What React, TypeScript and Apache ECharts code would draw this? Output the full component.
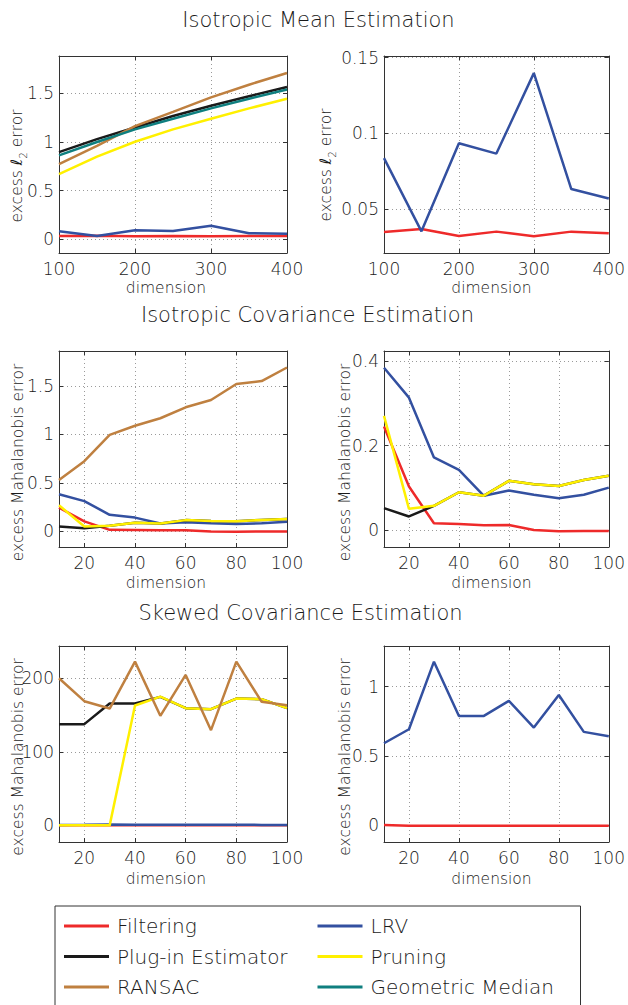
import React, { useEffect, useRef } from 'react';
import * as echarts from 'echarts';

// ---------- data ----------
const meanDims = [100, 150, 200, 250, 300, 350, 400];
const meanFiltering = [0.0349, 0.0368, 0.0322, 0.0351, 0.032, 0.0351, 0.034];
const meanLRV = [0.0836, 0.0353, 0.0934, 0.0866, 0.1397, 0.0632, 0.057];
const meanPlugin = [0.897, 1.03, 1.15, 1.267, 1.373, 1.47, 1.565];
const meanPruning = [0.671, 0.85, 1.003, 1.13, 1.24, 1.346, 1.445];
const meanRansac = [0.774, 0.96, 1.164, 1.31, 1.459, 1.589, 1.709];
const meanGeoMedian = [0.863, 1.0, 1.13, 1.24, 1.346, 1.445, 1.54];

const covDims = [10, 20, 30, 40, 50, 60, 70, 80, 90, 100];
const isoFiltering = [0.245, 0.1035, 0.017, 0.015, 0.012, 0.013, 0.001, -0.002, -0.001, -0.001];
const isoLRV = [0.3835, 0.313, 0.172, 0.143, 0.0816, 0.094, 0.084, 0.076, 0.084, 0.101];
const isoPlugin = [0.0525, 0.033, 0.058, 0.09, 0.082, 0.117, 0.109, 0.105, 0.119, 0.129];
const isoPruning = [0.27, 0.051, 0.058, 0.09, 0.082, 0.117, 0.109, 0.105, 0.119, 0.129];
const isoRansac = [0.53, 0.725, 0.995, 1.09, 1.167, 1.28, 1.355, 1.52, 1.55, 1.69];

const skewFiltering = [0.002, -0.002, -0.002, -0.002, -0.002, -0.002, -0.002, -0.002, -0.002, -0.002];
const skewLRV = [0.592, 0.693, 1.18, 0.789, 0.789, 0.897, 0.705, 0.94, 0.674, 0.643];
const skewPlugin = [137.6, 137.6, 165.6, 165.6, 174.7, 159.3, 157.9, 172.4, 171.5, 159.3];
const skewPruning = [0, 0, 0, 162.9, 175, 159.3, 158, 172.4, 171.5, 159.3];
const skewRansac = [200, 168.8, 158.8, 222.6, 148.9, 204.5, 129.4, 222.6, 167.9, 163.3];

const meanXTicks = [100, 200, 300, 400];
const covXTicks = [20, 40, 60, 80, 100];

const legendOrder = ['Filtering', 'LRV', 'Plug-in Estimator', 'Pruning', 'RANSAC', 'Geometric Median'];
const titles = ['Isotropic Mean Estimation', 'Isotropic Covariance Estimation', 'Skewed Covariance Estimation'];

// ---------- style ----------
const COLORS: Record<string, string> = {
  'Filtering': '#ee2a2a',
  'LRV': '#3350a0',
  'Plug-in Estimator': '#1a1a1a',
  'Pruning': '#fff000',
  'RANSAC': '#bf8040',
  'Geometric Median': '#0f7f7f',
};
const FONT = '"DejaVu Sans", sans-serif';
const FW = 300;
const TXT = '#1a1a1a';

type S = { name: string; x: number[]; y: number[] };

const panels = [
  {
    left: 59, top: 56, width: 228, height: 197,
    xMin: 100, xMax: 400, xTicks: meanXTicks,
    yMin: -0.14, yMax: 1.884, yTicks: [0, 0.5, 1, 1.5],
    series: [
      { name: 'Filtering', x: meanDims, y: meanFiltering },
      { name: 'LRV', x: meanDims, y: meanLRV },
      { name: 'Plug-in Estimator', x: meanDims, y: meanPlugin },
      { name: 'Pruning', x: meanDims, y: meanPruning },
      { name: 'RANSAC', x: meanDims, y: meanRansac },
      { name: 'Geometric Median', x: meanDims, y: meanGeoMedian },
    ] as S[],
    yName: 'l2', yNameX: 17, yNameY: 166, xNameX: 166, xNameY: 287.5,
  },
  {
    left: 384, top: 56, width: 227, height: 197,
    xMin: 100, xMax: 400, xTicks: meanXTicks,
    yMin: 0.021, yMax: 0.151, yTicks: [0.05, 0.1, 0.15],
    series: [
      { name: 'Filtering', x: meanDims, y: meanFiltering },
      { name: 'LRV', x: meanDims, y: meanLRV },
    ] as S[],
    yName: 'l2', yNameX: 326, yNameY: 165, xNameX: 491.5, xNameY: 287.5,
  },
  {
    left: 59, top: 351, width: 228, height: 196,
    xMin: 10, xMax: 100, xTicks: covXTicks,
    yMin: -0.16, yMax: 1.86, yTicks: [0, 0.5, 1, 1.5],
    series: [
      { name: 'Filtering', x: covDims, y: isoFiltering },
      { name: 'LRV', x: covDims, y: isoLRV },
      { name: 'Plug-in Estimator', x: covDims, y: isoPlugin },
      { name: 'Pruning', x: covDims, y: isoPruning },
      { name: 'RANSAC', x: covDims, y: isoRansac },
    ] as S[],
    yName: 'maha', yNameX: 18, yNameY: 462.5, xNameX: 166, xNameY: 583,
  },
  {
    left: 384, top: 351, width: 227, height: 196,
    xMin: 10, xMax: 100, xTicks: covXTicks,
    yMin: -0.039, yMax: 0.423, yTicks: [0, 0.2, 0.4],
    series: [
      { name: 'Filtering', x: covDims, y: isoFiltering },
      { name: 'LRV', x: covDims, y: isoLRV },
      { name: 'Plug-in Estimator', x: covDims, y: isoPlugin },
      { name: 'Pruning', x: covDims, y: isoPruning },
    ] as S[],
    yName: 'maha', yNameX: 345, yNameY: 462.5, xNameX: 491.5, xNameY: 583,
  },
  {
    left: 59, top: 646, width: 228, height: 196,
    xMin: 10, xMax: 100, xTicks: covXTicks,
    yMin: -22.6, yMax: 243.8, yTicks: [0, 100, 200],
    series: [
      { name: 'Filtering', x: covDims, y: skewFiltering },
      { name: 'LRV', x: covDims, y: skewLRV },
      { name: 'Plug-in Estimator', x: covDims, y: skewPlugin },
      { name: 'Pruning', x: covDims, y: skewPruning },
      { name: 'RANSAC', x: covDims, y: skewRansac },
    ] as S[],
    yName: 'maha', yNameX: 18, yNameY: 757, xNameX: 166, xNameY: 879,
  },
  {
    left: 384, top: 646, width: 227, height: 196,
    xMin: 10, xMax: 100, xTicks: covXTicks,
    yMin: -0.12, yMax: 1.293, yTicks: [0, 0.5, 1],
    series: [
      { name: 'Filtering', x: covDims, y: skewFiltering },
      { name: 'LRV', x: covDims, y: skewLRV },
    ] as S[],
    yName: 'maha', yNameX: 345, yNameY: 757, xNameX: 491.5, xNameY: 879,
  },
];

const titlePos = [
  { x: 318.5, y: 19.5 },
  { x: 307.5, y: 315 },
  { x: 300.5, y: 613 },
];

const fmt = (v: number) => String(+Number(v).toFixed(3));

function buildOption() {
  const grid: any[] = [];
  const xAxis: any[] = [];
  const yAxis: any[] = [];
  const series: any[] = [];
  const graphic: any[] = [];

  const tickStyle = { show: true, inside: true, length: 4, lineStyle: { color: '#333', width: 1 } };
  const lineStyle = { show: true, onZero: false, lineStyle: { color: '#333', width: 1 } };
  const split = { show: true, lineStyle: { color: '#9a9a9a', width: 1, type: [1, 3] } };

  panels.forEach((p, i) => {
    grid.push({ left: p.left, top: p.top, width: p.width, height: p.height, containLabel: false });
    xAxis.push({
      type: 'value', gridIndex: i, position: 'bottom', min: p.xMin, max: p.xMax,
      axisLine: lineStyle,
      axisTick: { ...tickStyle, customValues: p.xTicks },
      axisLabel: { customValues: p.xTicks, formatter: fmt, fontSize: 17, color: TXT, fontFamily: FONT, fontWeight: FW, margin: 7 },
      splitLine: split,
    });
    xAxis.push({
      type: 'value', gridIndex: i, position: 'top', min: p.xMin, max: p.xMax,
      axisLine: lineStyle,
      axisTick: { ...tickStyle, customValues: p.xTicks },
      axisLabel: { show: false },
      splitLine: { show: false },
    });
    yAxis.push({
      type: 'value', gridIndex: i, position: 'left', min: p.yMin, max: p.yMax,
      axisLine: lineStyle,
      axisTick: { ...tickStyle, customValues: p.yTicks },
      axisLabel: { customValues: p.yTicks, formatter: fmt, fontSize: 17, color: TXT, fontFamily: FONT, fontWeight: FW, margin: 5 },
      splitLine: split,
    });
    yAxis.push({
      type: 'value', gridIndex: i, position: 'right', min: p.yMin, max: p.yMax,
      axisLine: lineStyle,
      axisTick: { ...tickStyle, customValues: p.yTicks },
      axisLabel: { show: false },
      splitLine: { show: false },
    });
    p.series.forEach((s) => {
      series.push({
        type: 'line', name: s.name, xAxisIndex: 2 * i, yAxisIndex: 2 * i,
        data: s.x.map((x, k) => [x, s.y[k]]),
        symbol: 'none', clip: true,
        lineStyle: { color: COLORS[s.name], width: 2.5 },
        itemStyle: { color: COLORS[s.name] },
        emphasis: { disabled: true },
      });
    });

    const rich = {
      a: { fontSize: 15.5, fontFamily: FONT, fontWeight: FW, fill: TXT, lineHeight: 22, verticalAlign: 'middle' },
      l: { fontSize: 15.5, fontFamily: FONT, fontWeight: FW, fill: TXT, lineHeight: 22, verticalAlign: 'middle', fontStyle: 'italic' },
      s: { fontSize: 10.5, fontFamily: FONT, fontWeight: FW, fill: TXT, lineHeight: 22, verticalAlign: 'bottom' },
    };
    graphic.push({
      type: 'text', x: p.yNameX, y: p.yNameY, rotation: Math.PI / 2,
      style: {
        text: p.yName === 'l2' ? '{a|excess }{l|ℓ}{s|2}{a| error}' : '{a|excess Mahalanobis error}',
        rich, align: 'center', verticalAlign: 'middle', fill: TXT,
      },
    });
    graphic.push({
      type: 'text', x: p.xNameX, y: p.xNameY,
      style: { text: 'dimension', fontSize: 15.5, fontFamily: FONT, fontWeight: FW, fill: TXT, align: 'center', verticalAlign: 'middle' },
    });
  });

  titles.forEach((t, i) => {
    graphic.push({
      type: 'text', x: titlePos[i].x, y: titlePos[i].y,
      style: { text: t, fontSize: 21, fontFamily: FONT, fontWeight: FW, fill: TXT, align: 'center', verticalAlign: 'middle' },
    });
  });

  return {
    animation: false,
    backgroundColor: '#ffffff',
    grid, xAxis, yAxis, series, graphic,
    legend: {
      data: legendOrder,
      selectedMode: false,
      orient: 'horizontal',
      left: 55, top: 906, width: 500,
      padding: [10, 20, 12, 9],
      borderColor: '#333', borderWidth: 1,
      icon: 'rect', itemWidth: 45, itemHeight: 3, itemGap: 10.5,
      textStyle: { fontSize: 20, color: TXT, fontFamily: FONT, fontWeight: FW, width: 190, lineHeight: 20, padding: [0, 0, 0, 3] },
    },
  };
}

export default function App() {
  const ref = useRef<HTMLDivElement>(null);
  useEffect(() => {
    if (!ref.current) return;
    const chart = echarts.init(ref.current, undefined, { renderer: 'svg' });
    chart.setOption(buildOption() as any);
    return () => chart.dispose();
  }, []);
  return <div ref={ref} style={{ position: 'fixed', left: 0, top: 0, width: 628, height: 1005, background: '#fff' }} />;
}
